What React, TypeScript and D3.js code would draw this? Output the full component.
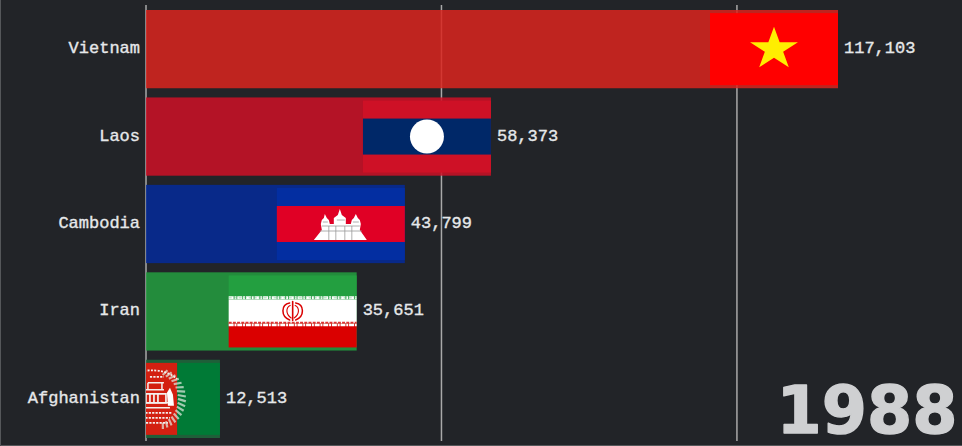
import React from "react";
import * as d3 from "d3";

const W = 962;
const H = 446;
const countries = ["Vietnam", "Laos", "Cambodia", "Iran", "Afghanistan"];
const values = [117103, 58373, 43799, 35651, 12513];
const barColors = ["#da251d", "#ce1126", "#032a9a", "#239f40", "#1e6a3c"];
const tickValues = [0, 50000, 100000];
const yearLabel = "1988";

const BG = "#222428";
const FLAG_W = 128;
const FLAG_H = 72;
const MONO = "'Liberation Mono', monospace";

const x = d3.scaleLinear().domain([0, 117103]).range([146, 838]);
const y = d3.scaleBand<string>().domain(countries).range([10, 438]).paddingInner(0.105);
const fmt = d3.format(",");

const FW = FLAG_W / 2;
const FH = FLAG_H / 2;

function Vietnam() {
  const star = d3.symbol().type(d3.symbolStar).size(712)()!;
  return (
    <g>
      <rect x={-FW} y={-FH} width={FLAG_W} height={FLAG_H} fill="#ff0000" />
      <path d={star} fill="#ffee00" transform="scale(1,0.89)" />
    </g>
  );
}

function Laos() {
  return (
    <g>
      <rect x={-FW} y={-FH} width={FLAG_W} height={FLAG_H} fill="#ce1126" />
      <rect x={-FW} y={-FH / 2} width={FLAG_W} height={FH} fill="#002868" />
      <circle r={17} fill="#fff" />
    </g>
  );
}

function Cambodia() {
  return (
    <g>
      <rect x={-FW} y={-FH} width={FLAG_W} height={FLAG_H} fill="#032ea1" />
      <rect x={-FW} y={-FH / 2} width={FLAG_W} height={FH} fill="#e00025" />
      <path
        fill="#fff"
        d="M-27,16 L-19,6 L-20,0 L-19,-4 L-17,-6 L-16,-10 L-14,-6 L-12,-4 L-11,0 L-7,0 L-7,-6 L-3,-9 L-1,-15 L1,-9 L5,-6 L5,0 L10,0 L11,-4 L13,-6 L15,-10 L17,-6 L19,-4 L20,0 L19,6 L26,16 Z"
      />
      <path
        fill="none"
        stroke="#9a9a9a"
        strokeWidth={0.8}
        d="M-19,2 H19 M-21,7 H21 M-12,2 V16 M-5,2 V16 M4,2 V16 M11,2 V16 M-4,-4 H4 M-18,-2 H-13 M12,-2 H18"
      />
    </g>
  );
}

function Iran() {
  const h3 = FLAG_H / 3;
  return (
    <g>
      <rect x={-FW} y={-FH} width={FLAG_W} height={h3} fill="#239f40" />
      <rect x={-FW} y={-FH + h3} width={FLAG_W} height={h3} fill="#fff" />
      <rect x={-FW} y={-FH + 2 * h3} width={FLAG_W} height={h3} fill="#da0000" />
      <line x1={-FW} x2={FW} y1={-h3 / 2 - 1.6} y2={-h3 / 2 - 1.6} stroke="#fff" strokeWidth={3} strokeDasharray="5 0.8 2 0.8" />
      <line x1={-FW} x2={FW} y1={-h3 / 2 - 1.6} y2={-h3 / 2 - 1.6} stroke="#239f40" strokeWidth={0.7} opacity={0.6} strokeDasharray="3 2" />
      <line x1={-FW} x2={FW} y1={h3 / 2 + 1.4} y2={h3 / 2 + 1.4} stroke="#fff" strokeWidth={2.6} strokeDasharray="5 0.8 2 0.8" />
      <line x1={-FW} x2={FW} y1={h3 / 2 - 0.8} y2={h3 / 2 - 0.8} stroke="#da0000" strokeWidth={1.8} opacity={0.8} strokeDasharray="3 1.2" />
      <g fill="none" stroke="#da0000" strokeLinecap="round">
        <path strokeWidth={1.5} d="M-3,-8.5 C-12,-7 -12,5 -3,8.5" />
        <path strokeWidth={1.5} d="M3,-8.5 C12,-7 12,5 3,8.5" />
        <path strokeWidth={1.1} d="M-2.5,-6 C-7,-4 -7,3 -1.5,6.5" />
        <path strokeWidth={1.1} d="M2.5,-6 C7,-4 7,3 1.5,6.5" />
        <path strokeWidth={1.6} d="M0,-10 V9" />
      </g>
    </g>
  );
}

function Afghanistan() {
  const w3 = FLAG_W / 3;
  const wreath = d3.range(-72, 80, 9).map((a) => (a * Math.PI) / 180);
  return (
    <g>
      <rect x={-FW} y={-FH} width={w3} height={FLAG_H} fill="#000" />
      <rect x={-FW + w3} y={-FH} width={w3} height={FLAG_H} fill="#d32011" />
      <rect x={-FW + 2 * w3} y={-FH} width={w3} height={FLAG_H} fill="#007a36" />
      <g fill="none" stroke="#dfe9df">
        {wreath.map((a) => (
          <line
            key={a}
            x1={22 * Math.cos(a)}
            y1={25 * Math.sin(a)}
            x2={30 * Math.cos(a + 0.08)}
            y2={31 * Math.sin(a + 0.08)}
            strokeWidth={2.2}
            opacity={0.72}
          />
        ))}
      </g>
      <g fill="none" stroke="#f4f0ee">
        <path strokeWidth={1.8} strokeDasharray="2 1.4" d="M-12,-28 C4,-30 14,-26 21,-20" />
        <path strokeWidth={1.5} d="M-8,-16 H8 M-8,-16 V-9 M6,-16 V-9 M-10,-9 H8 M-10,4 H14 M-12,9 H14" />
        <path strokeWidth={1.7} d="M-10,-5 H10 V4 H-10 Z M-6,-5 V4 M-2,-5 V4 M2,-5 V4" />
        <path strokeWidth={1.6} strokeDasharray="2.2 1.2" d="M-14,14 H16 M-14,19 H14 M-10,24 H12 M-6,-22 H8" />
      </g>
      <path d="M11,-6 L14,-11 L17,-4 L18,7 L12,7 Z" fill="#fff" />
    </g>
  );
}

const flagDrawers = [Vietnam, Laos, Cambodia, Iran, Afghanistan];

export default function App() {
  const bw = y.bandwidth();
  const textProps = {
    dominantBaseline: "central" as const,
    fontFamily: MONO,
    fontSize: 17,
    fill: "#e6e8ea",
    stroke: "#e6e8ea",
    strokeWidth: 0.35,
  };
  return (
    <svg
      width={W}
      height={H}
      viewBox={`0 0 ${W} ${H}`}
      style={{ position: "fixed", left: 0, top: 0, display: "block", background: BG }}
    >
      <defs>
        <clipPath id="plot">
          <rect x={x(0)} y={0} width={W - x(0)} height={H} />
        </clipPath>
      </defs>
      <path d={`M0.5,0 V${H - 0.5} H${W}`} fill="none" stroke="#55575a" strokeWidth={1} />
      {tickValues.map((t) => (
        <line key={t} x1={x(t)} x2={x(t)} y1={5} y2={441} stroke="#a9a9a9" strokeWidth={1.5} />
      ))}
      {countries.map((c, i) => {
        const Flag = flagDrawers[i];
        const top = y(c)!;
        const right = x(values[i]);
        const cy = top + bw / 2;
        return (
          <g key={c}>
            <rect x={x(0)} y={top} width={right - x(0)} height={bw} fill={barColors[i]} opacity={0.85} />
            <g clipPath="url(#plot)">
              <g transform={`translate(${right - FW},${cy})`}>
                <Flag />
              </g>
            </g>
            <text x={x(0) - 6} y={cy - 0.5} textAnchor="end" {...textProps}>
              {c}
            </text>
            <text x={right + 6} y={cy - 0.5} {...textProps}>
              {fmt(values[i])}
            </text>
          </g>
        );
      })}
      <text
        x={957.5}
        y={433}
        textAnchor="end"
        fontFamily="'DejaVu Sans', sans-serif"
        fontWeight={700}
        fontSize={65}
        fill="#cfd0d2"
        stroke="#cfd0d2"
        strokeWidth={1.4}
        strokeLinejoin="round"
      >
        {yearLabel}
      </text>
    </svg>
  );
}
